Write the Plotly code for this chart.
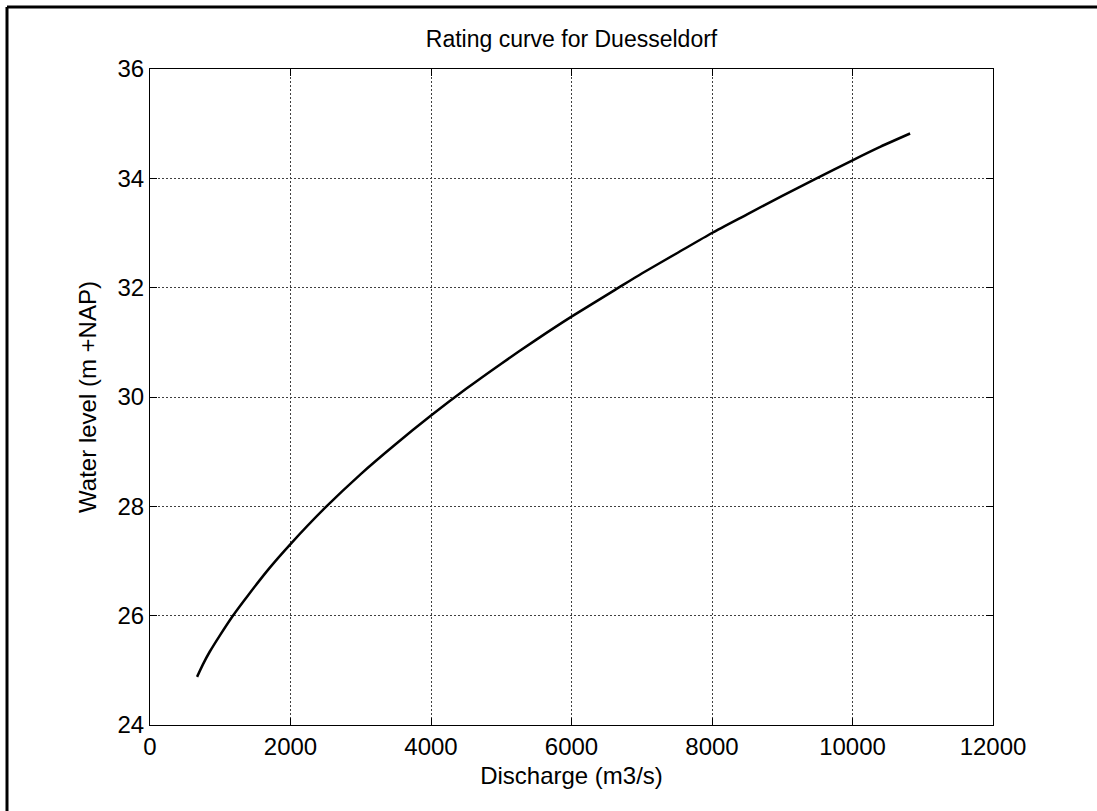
import plotly.graph_objects as go

# Data
discharge = [670, 750, 850, 1000, 1180, 1400, 1700, 2000, 2490, 3000, 3500, 4000, 4500,
             5000, 5500, 6000, 6620, 7000, 7500, 8000, 8500, 9000, 9460, 10000, 10400, 10820]
water_level = [24.88, 25.1, 25.34, 25.65, 26.0, 26.38, 26.87, 27.31, 27.97, 28.59, 29.14, 29.66,
               30.15, 30.61, 31.05, 31.47, 31.96, 32.26, 32.63, 33.0, 33.34, 33.68, 33.98,
               34.33, 34.58, 34.82]

x_ticks = [0, 2000, 4000, 6000, 8000, 10000, 12000]
y_ticks = [24, 26, 28, 30, 32, 34, 36]

W, H = 1097, 811
L, R, T, B = 150, 104, 69, 86

FONT = "Liberation Sans, Arial, Helvetica, sans-serif"

fig = go.Figure()
fig.add_trace(go.Scatter(x=discharge, y=water_level, mode="lines",
                         line=dict(color="black", width=2.5, shape="spline", smoothing=0.6),
                         showlegend=False))

pw = W - L - R
ph = H - T - B
fx = (7 - L) / pw
fy = (H - B - 7) / ph

axis_common = dict(showgrid=True, gridcolor="#404040", gridwidth=1, griddash="2px,2px",
                   showline=True, linecolor="black", linewidth=1, mirror="ticks",
                   ticks="inside", ticklen=7, tickcolor="black", zeroline=False,
                   tickfont=dict(family=FONT, size=24, color="black"))

fig.update_layout(
    width=W, height=H,
    margin=dict(l=L, r=R, t=T, b=B),
    paper_bgcolor="white", plot_bgcolor="white",
    font=dict(family=FONT, size=24, color="black"),
    title=dict(text="Rating curve for Duesseldorf", x=(L + pw / 2) / W, xanchor="center",
               y=1 - 39 / H, yanchor="middle", font=dict(family=FONT, size=23, color="black")),
    xaxis=dict(range=[0, 12000], tickvals=x_ticks, ticktext=[str(v) for v in x_ticks],
               title=dict(text="Discharge (m3/s)", font=dict(family=FONT, size=24), standoff=8),
               **axis_common),
    yaxis=dict(range=[24, 36], tickvals=y_ticks, ticktext=[str(v) for v in y_ticks],
               title=dict(text="Water level (m +NAP)", font=dict(family=FONT, size=24), standoff=14),
               **axis_common),
    shapes=[
        dict(type="line", xref="paper", yref="paper", x0=fx, x1=fx, y0=-0.3, y1=fy,
             line=dict(color="black", width=3)),
        dict(type="line", xref="paper", yref="paper", x0=fx, x1=1.3, y0=fy, y1=fy,
             line=dict(color="black", width=3)),
    ],
)

fig.write_html("out.html")
